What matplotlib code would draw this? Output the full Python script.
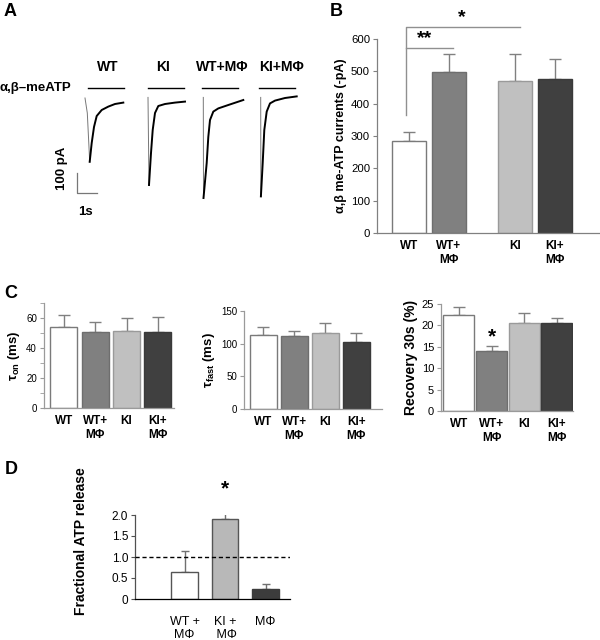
import matplotlib
matplotlib.use("Agg")
import matplotlib.pyplot as plt
import numpy as np

plt.rcParams['font.family'] = ['Liberation Sans', 'DejaVu Sans']
plt.rcParams['mathtext.fontset'] = 'custom'
plt.rcParams['mathtext.rm'] = 'Liberation Sans'
plt.rcParams['mathtext.bf'] = 'Liberation Sans:bold'
plt.rcParams['mathtext.it'] = 'Liberation Sans:italic'

# ---------------- data ----------------
# Panel A traces (time s from onset, current pA)
trace_names = ["WT", "KI", "WT+MΦ", "KI+MΦ"]
wt_t = [0, 0.115, 0.235, 0.335, 0.45, 0.585, 0.835, 1.165, 1.5, 1.915]
wt_i = [-5, -80, -324, -230, -150, -95, -65, -48, -35, -28]
ki_t = [0, 0.05, 0.15, 0.235, 0.35, 0.515, 0.85, 1.35, 1.85]
ki_i = [-2, -440, -280, -165, -80, -45, -35, -28, -23]
wtm_t = [0, 0.01, 0.17, 0.25, 0.335, 0.5, 0.75, 1.25, 2.0]
wtm_i = [-2, -505, -330, -200, -115, -73, -57, -40, -15]
kim_t = [0, 0.01, 0.1, 0.18, 0.3, 0.465, 0.715, 1.215, 1.8]
kim_i = [-2, -497, -330, -165, -73, -32, -18, -5, 3]
agonist_on = [0.15, 0.0, -0.05, -0.08]
agonist_off = [1.95, 1.8, 1.75, 1.72]

# Panel B
b_labels = ["WT", "WT+\nMΦ", "KI", "KI+\nMΦ"]
b_values = [285, 497, 470, 475]
b_err = [27, 58, 85, 62]

# Panel C
c_labels = ["WT", "WT+\nMΦ", "KI", "KI+\nMΦ"]
tau_on = [54, 51, 51.5, 50.5]
tau_on_err = [8, 6.5, 8.5, 10.5]
tau_fast = [113, 112, 117, 102]
tau_fast_err = [12, 8, 14, 14]
recovery = [22.5, 14.0, 20.6, 20.6]
recovery_err = [1.8, 1.2, 2.4, 1.1]

# Panel D
d_labels = ["WT +\nMΦ", "KI +\n MΦ", "MΦ"]
d_values = [0.65, 1.9, 0.25]
d_err = [0.5, 0.15, 0.1]

bar_colors4 = ["white", "#808080", "#c0c0c0", "#404040"]
edge_colors4 = ["#7a7a7a", "#6e6e6e", "#9a9a9a", "#3a3a3a"]

W, H = 600, 640
fig = plt.figure(figsize=(6, 6.4), dpi=100)


def box(l, t, r, b):
    return [l / W, 1 - b / H, (r - l) / W, (b - t) / H]


def ftext(x, y, s, **kw):
    fig.text(x / W, 1 - y / H, s, **kw)


def style_axes(ax, spine_color="#808080"):
    for s in ["top", "right"]:
        ax.spines[s].set_visible(False)
    for s in ["left", "bottom"]:
        ax.spines[s].set_color(spine_color)
        ax.spines[s].set_linewidth(0.9)
    ax.tick_params(axis="y", direction="out", length=3, width=0.8, color=spine_color, pad=2)
    ax.tick_params(axis="x", length=0)


def bars(ax, pos, vals, errs, width, colors, edges):
    ax.bar(pos, vals, width=width, color=colors, edgecolor=edges, linewidth=1.0, zorder=2)
    ax.errorbar(pos, vals, yerr=[np.zeros(len(vals)), errs], fmt="none",
                ecolor="#808080", elinewidth=1.0, capsize=4, capthick=1.0, zorder=1)


# ---------------- Panel letters ----------------
for lab, (x, y) in zip("ABCD", [(4, 11), (330, 11), (4, 294), (5, 470)]):
    ftext(x, y, lab, fontsize=13, fontweight="bold", va="center", ha="left")

# ---------------- Panel A ----------------
axA = fig.add_axes(box(60, 80, 310, 215))
axA.set_xlim(0, 12.5)
axA.set_ylim(-590, 85)
axA.axis("off")
onsets = [1.25, 4.4, 7.165, 10.035]
traces = [(wt_t, wt_i), (ki_t, ki_i), (wtm_t, wtm_i), (kim_t, kim_i)]
for k, (tt, ii) in enumerate(traces):
    tt = np.array(tt) + onsets[k]
    ii = np.array(ii)
    m = int(np.argmin(ii))
    axA.plot(tt[:m + 1], ii[:m + 1], color="#777777", lw=0.7)
    axA.plot(tt[m:], ii[m:], color="black", lw=1.4)
    axA.plot([onsets[k] + agonist_on[k], onsets[k] + agonist_off[k]], [45, 45],
             color="black", lw=1.0)
# scale bar: 100 pA, 1 s
axA.plot([0.85, 0.85, 1.85], [-380, -480, -480], color="#777777", lw=0.9)
for name, x in zip(trace_names, [108, 163, 222, 281]):
    ftext(x, 67, name, fontsize=10, fontweight="bold", ha="center", va="center")
ftext(0, 88, "α,β–meATP", fontsize=9.5, fontweight="bold", ha="left", va="center")
ftext(62, 168, "100 pA", fontsize=9.5, fontweight="bold", ha="center", va="center", rotation=90)
ftext(85, 212, "1s", fontsize=9.5, fontweight="bold", ha="center", va="center")

# ---------------- Panel B ----------------
axB = fig.add_axes(box(377, 39, 599, 233))
b_pos = [0, 1, 2.65, 3.65]
bars(axB, b_pos, b_values, b_err, 0.83, bar_colors4, edge_colors4)
axB.set_xlim(-0.8, 4.75)
axB.set_ylim(0, 600)
axB.set_yticks([0, 100, 200, 300, 400, 500, 600])
style_axes(axB)
axB.set_xticks(b_pos)
axB.set_xticklabels(b_labels, fontsize=8.5, fontweight="bold", va="top")
axB.tick_params(axis="x", pad=5)
for lbl in axB.get_yticklabels():
    lbl.set_fontsize(8.2)
axB.set_ylabel("α,β me-ATP currents (-pA)", fontsize=9, fontweight="bold", labelpad=3)
# significance brackets
axB.plot([-0.07, -0.07, 2.78], [365, 637, 637], color="#909090", lw=1.0, clip_on=False)
axB.plot([-0.07, 1.1], [572, 572], color="#909090", lw=1.0, clip_on=False)
axB.text(0.4, 575, "**", fontsize=14, fontweight="bold", ha="center", va="bottom")
axB.text(1.33, 640, "*", fontsize=14, fontweight="bold", ha="center", va="bottom")

# ---------------- Panel C ----------------
c_pos = [0, 1, 2, 3]
# C1
axC1 = fig.add_axes(box(44, 303, 174, 408))
bars(axC1, c_pos, tau_on, tau_on_err, 0.86, bar_colors4, edge_colors4)
axC1.set_xlim(-0.63, 3.51)
axC1.set_ylim(0, 70)
axC1.set_yticks([0, 20, 40, 60])
axC1.set_yticks([10, 30, 50, 70], minor=True)
style_axes(axC1, "#9a9a9a")
axC1.tick_params(axis="y", which="minor", length=3, color="#9a9a9a")
axC1.set_xticks(c_pos)
axC1.set_xticklabels(c_labels, fontsize=8.5, fontweight="bold", va="top")
axC1.tick_params(axis="x", pad=5)
for lbl in axC1.get_yticklabels():
    lbl.set_fontsize(7)
axC1.set_ylabel(r"$\mathbf{\tau_{on}}$ $\mathbf{(ms)}$", fontsize=9.5, labelpad=3)

# C2
axC2 = fig.add_axes(box(244, 311, 382, 409))
bars(axC2, c_pos, tau_fast, tau_fast_err, 0.86, bar_colors4, edge_colors4)
axC2.set_xlim(-0.63, 3.83)
axC2.set_ylim(0, 150)
axC2.set_yticks([0, 50, 100, 150])
style_axes(axC2, "#9a9a9a")
axC2.set_xticks(c_pos)
axC2.set_xticklabels(c_labels, fontsize=8.5, fontweight="bold", va="top")
axC2.tick_params(axis="x", pad=5)
for lbl in axC2.get_yticklabels():
    lbl.set_fontsize(7)
axC2.set_ylabel(r"$\mathbf{\tau_{fast}}$ $\mathbf{(ms)}$", fontsize=9.5, labelpad=3)

# C3
axC3 = fig.add_axes(box(441, 304, 573, 411))
bars(axC3, c_pos, recovery, recovery_err, 0.95, bar_colors4, edge_colors4)
axC3.set_xlim(-0.55, 3.5)
axC3.set_ylim(0, 25)
axC3.set_yticks([0, 5, 10, 15, 20, 25])
style_axes(axC3, "#9a9a9a")
axC3.set_xticks(c_pos)
axC3.set_xticklabels(c_labels, fontsize=8.5, fontweight="bold", va="top")
axC3.tick_params(axis="x", pad=5)
for lbl in axC3.get_yticklabels():
    lbl.set_fontsize(8)
axC3.set_ylabel("Recovery 30s (%)", fontsize=10, fontweight="bold", labelpad=3)
axC3.text(1, 17.3, "*", fontsize=15, fontweight="bold", ha="center", va="center")

# ---------------- Panel D ----------------
axD = fig.add_axes(box(135, 515, 290, 599))
d_pos = [0, 1, 2]
axD.bar(d_pos, d_values, width=0.66, color=["white", "#b8b8b8", "#3c3c3c"],
        edgecolor=["#555555", "#555555", "#3c3c3c"], linewidth=1.0, zorder=2)
axD.errorbar(d_pos, d_values, yerr=[np.zeros(3), d_err], fmt="none",
             ecolor="#707070", elinewidth=1.0, capsize=3, capthick=1.0, zorder=1)
axD.axhline(1.0, color="black", lw=1.0, ls=(0, (3, 2)), zorder=3)
axD.set_xlim(-1.22, 2.6)
axD.set_ylim(0, 2.0)
axD.set_yticks([0, 0.5, 1.0, 1.5, 2.0])
axD.set_yticklabels(["0", "0.5", "1.0", "1.5", "2.0"], fontsize=8.5)
style_axes(axD, "#505050")
axD.spines["bottom"].set_color("black")
axD.set_xticks(d_pos)
axD.set_xticklabels(d_labels, fontsize=9, va="top")
axD.tick_params(axis="x", pad=12)
axD.set_ylabel("Fractional ATP release", fontsize=10, fontweight="bold", labelpad=8)
axD.yaxis.set_label_coords(-0.3, 0.69)
axD.text(1, 2.62, "*", fontsize=15, fontweight="bold", ha="center", va="center", clip_on=False)

fig.savefig("out.png", dpi=100, facecolor="white")
